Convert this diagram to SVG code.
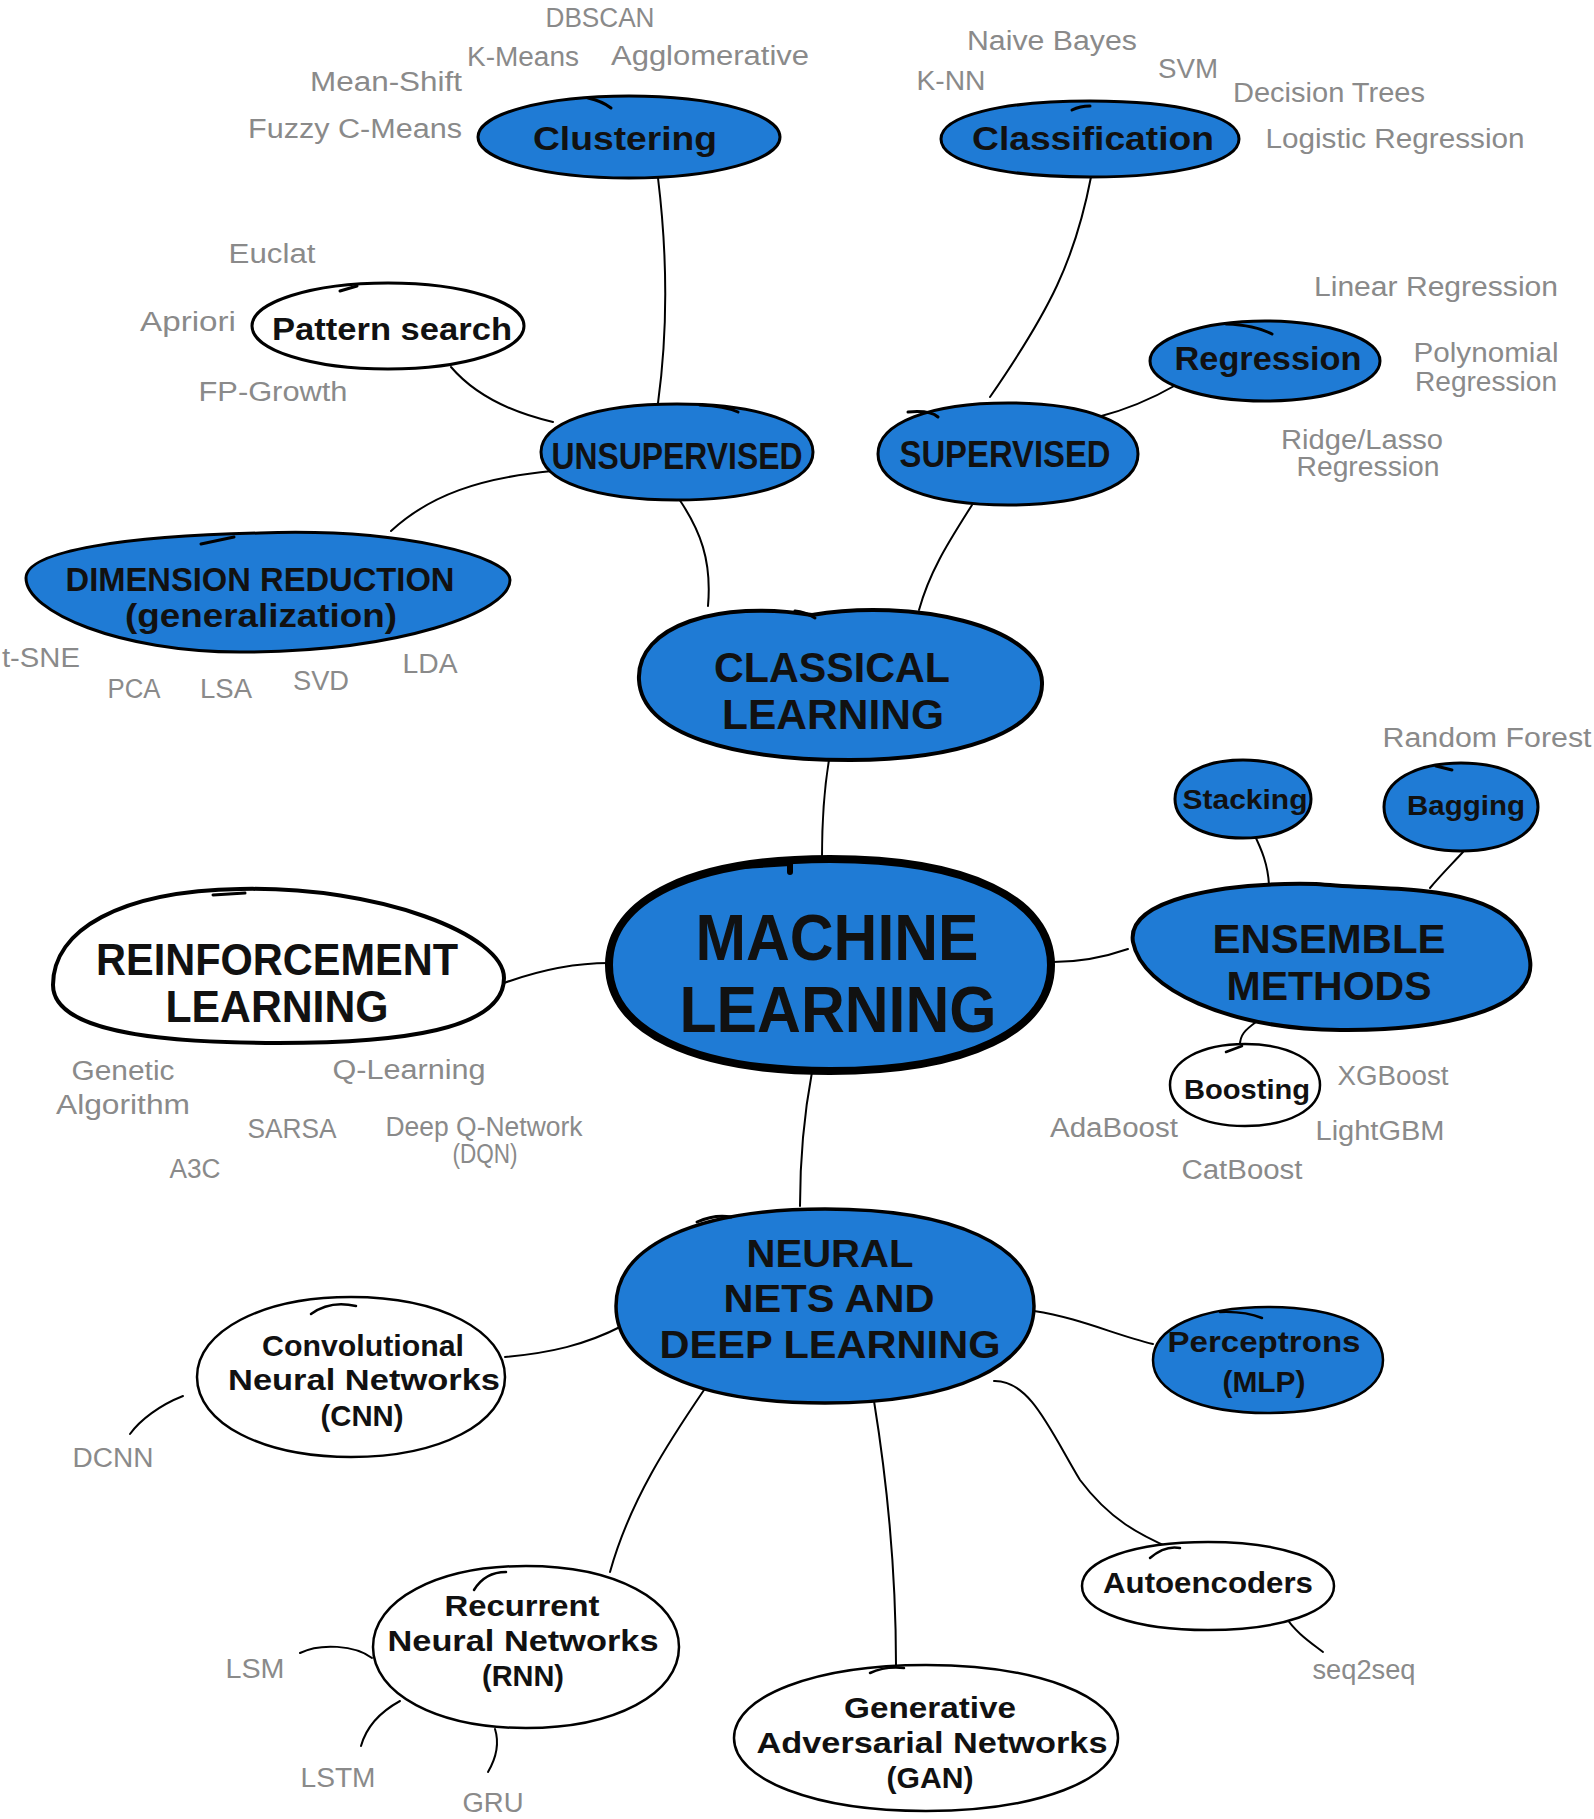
<svg xmlns="http://www.w3.org/2000/svg" width="1594" height="1819" viewBox="0 0 1594 1819">
  <style>
    .edge { fill: none; stroke: #000; stroke-width: 2; stroke-linecap: round; }
    .blob { fill: #1f7bd5; stroke: #000; stroke-width: 3; stroke-linejoin: round; }
    .plain { fill: #fff; stroke: #000; stroke-width: 3; stroke-linejoin: round; }
    .tick { fill: none; stroke: #000; stroke-width: 3; stroke-linecap: round; }
    .lbl { font-family: "Liberation Sans", Arial, sans-serif; fill: #111; text-anchor: middle; font-weight: bold; }
    .note { font-family: "Liberation Sans", Arial, sans-serif; fill: #8a8a8a; text-anchor: middle; font-size: 27px; }
  </style>

  <!-- connectors -->
  <g id="connectors">
    <path class="edge" d="M 658,178 C 668,260 668,330 658,403"/>
    <path class="edge" d="M 451,367 C 475,395 510,412 553,422"/>
    <path class="edge" d="M 1091,177 C 1075,260 1050,310 990,397"/>
    <path class="edge" d="M 1176,385 C 1150,400 1125,410 1098,417"/>
    <path class="edge" d="M 552,471 C 480,478 430,495 391,531"/>
    <path class="edge" d="M 679,499 C 700,530 712,560 708,606"/>
    <path class="edge" d="M 972,505 C 950,540 930,570 919,610"/>
    <path class="edge" d="M 829,760 C 824,790 822,820 822,857"/>
    <path class="edge" d="M 1053,962 C 1080,962 1105,957 1128,949"/>
    <path class="edge" d="M 1253,832 C 1262,850 1268,865 1269,885"/>
    <path class="edge" d="M 1463,852 C 1450,866 1440,876 1430,888"/>
    <path class="edge" d="M 1256,1022 C 1245,1030 1240,1035 1240,1045"/>
    <path class="edge" d="M 504,983 C 540,970 575,963 609,963"/>
    <path class="edge" d="M 812,1072 C 803,1120 800,1160 800,1206"/>
    <path class="edge" d="M 622,1326 C 585,1345 550,1353 505,1357"/>
    <path class="edge" d="M 1034,1311 C 1080,1318 1115,1335 1153,1344"/>
    <path class="edge" d="M 704,1390 C 670,1440 630,1500 610,1572"/>
    <path class="edge" d="M 874,1401 C 890,1500 896,1580 896,1665"/>
    <path class="edge" d="M 994,1381 C 1030,1380 1050,1430 1080,1480 C 1110,1520 1140,1535 1172,1549"/>
    <path class="edge" d="M 183,1396 C 160,1405 140,1420 130,1434"/>
    <path class="edge" d="M 1285,1616 C 1295,1632 1310,1642 1323,1652"/>
    <path class="edge" d="M 300,1653 C 320,1643 355,1645 372,1658"/>
    <path class="edge" d="M 400,1701 C 380,1712 366,1728 361,1746"/>
    <path class="edge" d="M 495,1729 C 500,1745 495,1760 488,1772"/>
  </g>

  <!-- nodes -->
  <g id="clustering">
    <path class="blob" d="M 629,96 C 714,96 780,114 780,137 C 780,160 714,178 629,178 C 544,178 478,160 478,137 C 478,114 544,96 629,96 Z"/>
    <path class="tick" d="M 588,98 Q 602,101 611,108"/>
    <text class="lbl" x="625" y="150" font-size="34" textLength="184" lengthAdjust="spacingAndGlyphs">Clustering</text>
  </g>
  <g id="classification">
    <path class="blob" d="M 1090,101 C 1179,101 1239,116 1239,139 C 1239,162 1179,177 1090,177 C 1001,177 941,162 941,139 C 941,116 1001,101 1090,101 Z"/>
    <path class="tick" d="M 1072,110 Q 1080,106 1090,106"/>
    <text class="lbl" x="1093" y="150" font-size="34" textLength="242" lengthAdjust="spacingAndGlyphs">Classification</text>
  </g>
  <g id="pattern-search">
    <path class="plain" d="M 388,283 C 464,283 524,302 524,326 C 524,350 464,369 388,369 C 312,369 252,350 252,326 C 252,302 312,283 388,283 Z"/>
    <path class="tick" d="M 340,291 L 357,286"/>
    <text class="lbl" x="392" y="340" font-size="31" textLength="240" lengthAdjust="spacingAndGlyphs">Pattern search</text>
  </g>
  <g id="regression">
    <path class="blob" d="M 1265,321 C 1329,321 1380,339 1380,361 C 1380,383 1329,401 1265,401 C 1201,401 1150,383 1150,361 C 1150,339 1201,321 1265,321 Z"/>
    <path class="tick" d="M 1226,324 Q 1255,325 1272,334"/>
    <text class="lbl" x="1268" y="370" font-size="34" textLength="187" lengthAdjust="spacingAndGlyphs">Regression</text>
  </g>
  <g id="unsupervised">
    <path class="blob" d="M 677,404 C 759,404 813,423 813,452 C 813,481 759,500 677,500 C 595,500 541,481 541,452 C 541,423 595,404 677,404 Z"/>
    <path class="tick" d="M 700,405 Q 725,406 738,412"/>
    <text class="lbl" x="677" y="469" font-size="37" textLength="251" lengthAdjust="spacingAndGlyphs">UNSUPERVISED</text>
  </g>
  <g id="supervised">
    <path class="blob" d="M 1008,403 C 1086,403 1138,423 1138,454 C 1138,485 1086,505 1008,505 C 930,505 878,485 878,454 C 878,423 930,403 1008,403 Z"/>
    <path class="tick" d="M 908,412 Q 930,410 938,417"/>
    <text class="lbl" x="1005" y="467" font-size="37" textLength="211" lengthAdjust="spacingAndGlyphs">SUPERVISED</text>
  </g>
  <g id="dimension-reduction">
    <path class="blob" d="M 260,533 C 400,528 510,556 510,580 C 510,612 400,652 240,652 C 120,652 26,612 26,578 C 26,550 130,536 260,533 Z"/>
    <path class="tick" d="M 201,544 L 234,537"/>
    <text class="lbl" x="260" y="591" font-size="34" textLength="389" lengthAdjust="spacingAndGlyphs">DIMENSION REDUCTION</text>
    <text class="lbl" x="261" y="627" font-size="34" textLength="272" lengthAdjust="spacingAndGlyphs">(generalization)</text>
  </g>
  <g id="classical-learning">
    <path class="blob" style="stroke-width:4" d="M 812,615 C 910,598 1040,625 1042,682 C 1044,735 950,760 850,760 C 735,760 642,735 639,680 C 636,625 720,600 812,615 Z"/>
    <path class="tick" d="M 795,611 Q 805,612 815,618"/>
    <text class="lbl" x="832" y="682" font-size="42" textLength="236" lengthAdjust="spacingAndGlyphs">CLASSICAL</text>
    <text class="lbl" x="833" y="729" font-size="42" textLength="222" lengthAdjust="spacingAndGlyphs">LEARNING</text>
  </g>
  <g id="stacking">
    <path class="blob" d="M 1243,760 C 1284,760 1311,776 1311,799 C 1311,822 1284,838 1243,838 C 1202,838 1175,822 1175,799 C 1175,776 1202,760 1243,760 Z"/>
    <text class="lbl" x="1245" y="809" font-size="28" textLength="125" lengthAdjust="spacingAndGlyphs">Stacking</text>
  </g>
  <g id="bagging">
    <path class="blob" d="M 1461,763 C 1507,763 1538,781 1538,807 C 1538,833 1507,851 1461,851 C 1415,851 1384,833 1384,807 C 1384,781 1415,763 1461,763 Z"/>
    <path class="tick" d="M 1436,766 L 1452,770"/>
    <text class="lbl" x="1466" y="815" font-size="28" textLength="118" lengthAdjust="spacingAndGlyphs">Bagging</text>
  </g>
  <g id="machine-learning">
    <path class="blob" style="stroke-width:8" d="M 830,859 C 967,859 1051,899 1051,965 C 1051,1031 967,1071 830,1071 C 693,1071 609,1031 609,965 C 609,899 693,859 830,859 Z"/>
    <path class="tick" style="stroke-width:6" d="M 742,866 L 790,863 L 790,872"/>
    <text class="lbl" x="837" y="960" font-size="64" textLength="283" lengthAdjust="spacingAndGlyphs">MACHINE</text>
    <text class="lbl" x="838" y="1032" font-size="64" textLength="317" lengthAdjust="spacingAndGlyphs">LEARNING</text>
  </g>
  <g id="reinforcement-learning">
    <path class="plain" style="stroke-width:4" d="M 240,889 C 380,886 504,935 504,978 C 504,1030 400,1043 278,1043 C 150,1043 53,1030 53,985 C 53,930 120,891 240,889 Z"/>
    <path class="tick" d="M 213,895 L 245,893"/>
    <text class="lbl" x="277" y="975" font-size="44" textLength="362" lengthAdjust="spacingAndGlyphs">REINFORCEMENT</text>
    <text class="lbl" x="277" y="1022" font-size="44" textLength="223" lengthAdjust="spacingAndGlyphs">LEARNING</text>
  </g>
  <g id="ensemble-methods">
    <path class="blob" style="stroke-width:4" d="M 1316,884 C 1400,892 1520,880 1530,960 C 1537,1010 1440,1031 1340,1030 C 1230,1029 1142,990 1133,942 C 1126,900 1220,882 1316,884 Z"/>
    <text class="lbl" x="1329" y="953" font-size="41" textLength="233" lengthAdjust="spacingAndGlyphs">ENSEMBLE</text>
    <text class="lbl" x="1329" y="1000" font-size="41" textLength="205" lengthAdjust="spacingAndGlyphs">METHODS</text>
  </g>
  <g id="boosting">
    <path class="plain" style="stroke-width:2.5" d="M 1245,1044 C 1289,1044 1320,1061 1320,1085 C 1320,1109 1289,1126 1245,1126 C 1201,1126 1170,1109 1170,1085 C 1170,1061 1201,1044 1245,1044 Z"/>
    <path class="tick" style="stroke-width:2.5" d="M 1226,1052 L 1242,1046"/>
    <text class="lbl" x="1247" y="1099" font-size="28" textLength="126" lengthAdjust="spacingAndGlyphs">Boosting</text>
  </g>
  <g id="neural-nets">
    <path class="blob" style="stroke-width:3.5" d="M 825,1209 C 955,1209 1034,1246 1034,1306 C 1034,1366 955,1403 825,1403 C 695,1403 616,1366 616,1306 C 616,1246 695,1209 825,1209 Z"/>
    <path class="tick" d="M 697,1222 Q 715,1214 731,1217"/>
    <text class="lbl" x="830" y="1267" font-size="39" textLength="167" lengthAdjust="spacingAndGlyphs">NEURAL</text>
    <text class="lbl" x="829" y="1312" font-size="39" textLength="211" lengthAdjust="spacingAndGlyphs">NETS AND</text>
    <text class="lbl" x="830" y="1358" font-size="39" textLength="341" lengthAdjust="spacingAndGlyphs">DEEP LEARNING</text>
  </g>
  <g id="cnn">
    <path class="plain" style="stroke-width:2.5" d="M 351,1297 C 440,1297 505,1331 505,1377 C 505,1423 440,1457 351,1457 C 262,1457 197,1423 197,1377 C 197,1331 262,1297 351,1297 Z"/>
    <path class="tick" style="stroke-width:2.5" d="M 311,1314 Q 330,1300 356,1306"/>
    <text class="lbl" x="363" y="1356" font-size="30" textLength="202" lengthAdjust="spacingAndGlyphs">Convolutional</text>
    <text class="lbl" x="364" y="1390" font-size="30" textLength="272" lengthAdjust="spacingAndGlyphs">Neural Networks</text>
    <text class="lbl" x="362" y="1426" font-size="30" textLength="83" lengthAdjust="spacingAndGlyphs">(CNN)</text>
  </g>
  <g id="perceptrons">
    <path class="blob" style="stroke-width:2.5" d="M 1268,1307 C 1337,1307 1383,1328 1383,1360 C 1383,1392 1337,1413 1268,1413 C 1199,1413 1153,1392 1153,1360 C 1153,1328 1199,1307 1268,1307 Z"/>
    <path class="tick" style="stroke-width:2.5" d="M 1220,1312 Q 1245,1311 1262,1318"/>
    <text class="lbl" x="1264" y="1352" font-size="30" textLength="193" lengthAdjust="spacingAndGlyphs">Perceptrons</text>
    <text class="lbl" x="1264" y="1392" font-size="30" textLength="83" lengthAdjust="spacingAndGlyphs">(MLP)</text>
  </g>
  <g id="autoencoders">
    <path class="plain" style="stroke-width:2.5" d="M 1208,1542 C 1281,1542 1334,1560 1334,1586 C 1334,1612 1281,1630 1208,1630 C 1135,1630 1082,1612 1082,1586 C 1082,1560 1135,1542 1208,1542 Z"/>
    <path class="tick" style="stroke-width:2.5" d="M 1150,1558 Q 1165,1545 1180,1548"/>
    <text class="lbl" x="1208" y="1593" font-size="30" textLength="210" lengthAdjust="spacingAndGlyphs">Autoencoders</text>
  </g>
  <g id="rnn">
    <path class="plain" style="stroke-width:2.5" d="M 526,1566 C 615,1566 679,1600 679,1647 C 679,1694 615,1728 526,1728 C 437,1728 373,1694 373,1647 C 373,1600 437,1566 526,1566 Z"/>
    <path class="tick" style="stroke-width:2.5" d="M 474,1590 Q 485,1572 506,1572"/>
    <text class="lbl" x="522" y="1616" font-size="30" textLength="155" lengthAdjust="spacingAndGlyphs">Recurrent</text>
    <text class="lbl" x="523" y="1651" font-size="30" textLength="271" lengthAdjust="spacingAndGlyphs">Neural Networks</text>
    <text class="lbl" x="523" y="1686" font-size="30" textLength="82" lengthAdjust="spacingAndGlyphs">(RNN)</text>
  </g>
  <g id="gan">
    <path class="plain" style="stroke-width:2.5" d="M 926,1665 C 1037,1665 1118,1696 1118,1738 C 1118,1780 1037,1811 926,1811 C 815,1811 734,1780 734,1738 C 734,1696 815,1665 926,1665 Z"/>
    <path class="tick" style="stroke-width:2.5" d="M 870,1673 Q 885,1666 904,1668"/>
    <text class="lbl" x="930" y="1718" font-size="30" textLength="172" lengthAdjust="spacingAndGlyphs">Generative</text>
    <text class="lbl" x="932" y="1753" font-size="30" textLength="351" lengthAdjust="spacingAndGlyphs">Adversarial Networks</text>
    <text class="lbl" x="930" y="1788" font-size="30" textLength="87" lengthAdjust="spacingAndGlyphs">(GAN)</text>
  </g>

  <!-- algorithm examples -->
  <g id="examples">
    <text class="note" x="600" y="27" textLength="109" lengthAdjust="spacingAndGlyphs">DBSCAN</text>
    <text class="note" x="523" y="66" textLength="112" lengthAdjust="spacingAndGlyphs">K-Means</text>
    <text class="note" x="710" y="65" textLength="198" lengthAdjust="spacingAndGlyphs">Agglomerative</text>
    <text class="note" x="386" y="91" textLength="152" lengthAdjust="spacingAndGlyphs">Mean-Shift</text>
    <text class="note" x="355" y="138" textLength="214" lengthAdjust="spacingAndGlyphs">Fuzzy C-Means</text>
    <text class="note" x="1052" y="50" textLength="170" lengthAdjust="spacingAndGlyphs">Naive Bayes</text>
    <text class="note" x="951" y="90" textLength="69" lengthAdjust="spacingAndGlyphs">K-NN</text>
    <text class="note" x="1188" y="78" textLength="60" lengthAdjust="spacingAndGlyphs">SVM</text>
    <text class="note" x="1329" y="102" textLength="192" lengthAdjust="spacingAndGlyphs">Decision Trees</text>
    <text class="note" x="1395" y="148" textLength="259" lengthAdjust="spacingAndGlyphs">Logistic Regression</text>
    <text class="note" x="272" y="263" textLength="87" lengthAdjust="spacingAndGlyphs">Euclat</text>
    <text class="note" x="188" y="331" textLength="96" lengthAdjust="spacingAndGlyphs">Apriori</text>
    <text class="note" x="273" y="401" textLength="149" lengthAdjust="spacingAndGlyphs">FP-Growth</text>
    <text class="note" x="1436" y="296" textLength="244" lengthAdjust="spacingAndGlyphs">Linear Regression</text>
    <text class="note" x="1486" y="362" textLength="145" lengthAdjust="spacingAndGlyphs">Polynomial</text>
    <text class="note" x="1486" y="391" textLength="142" lengthAdjust="spacingAndGlyphs">Regression</text>
    <text class="note" x="1362" y="449" textLength="162" lengthAdjust="spacingAndGlyphs">Ridge/Lasso</text>
    <text class="note" x="1368" y="476" textLength="143" lengthAdjust="spacingAndGlyphs">Regression</text>
    <text class="note" x="41" y="667" textLength="78" lengthAdjust="spacingAndGlyphs">t-SNE</text>
    <text class="note" x="134" y="698" textLength="53" lengthAdjust="spacingAndGlyphs">PCA</text>
    <text class="note" x="226" y="698" textLength="52" lengthAdjust="spacingAndGlyphs">LSA</text>
    <text class="note" x="321" y="690" textLength="56" lengthAdjust="spacingAndGlyphs">SVD</text>
    <text class="note" x="430" y="673" textLength="55" lengthAdjust="spacingAndGlyphs">LDA</text>
    <text class="note" x="1487" y="747" textLength="209" lengthAdjust="spacingAndGlyphs">Random Forest</text>
    <text class="note" x="1393" y="1085" textLength="111" lengthAdjust="spacingAndGlyphs">XGBoost</text>
    <text class="note" x="1114" y="1137" textLength="128" lengthAdjust="spacingAndGlyphs">AdaBoost</text>
    <text class="note" x="1380" y="1140" textLength="129" lengthAdjust="spacingAndGlyphs">LightGBM</text>
    <text class="note" x="1242" y="1179" textLength="121" lengthAdjust="spacingAndGlyphs">CatBoost</text>
    <text class="note" x="123" y="1080" textLength="103" lengthAdjust="spacingAndGlyphs">Genetic</text>
    <text class="note" x="123" y="1114" textLength="134" lengthAdjust="spacingAndGlyphs">Algorithm</text>
    <text class="note" x="409" y="1079" textLength="153" lengthAdjust="spacingAndGlyphs">Q-Learning</text>
    <text class="note" x="292" y="1138" textLength="89" lengthAdjust="spacingAndGlyphs">SARSA</text>
    <text class="note" x="484" y="1136" font-size="24" textLength="197" lengthAdjust="spacingAndGlyphs">Deep Q-Network</text>
    <text class="note" x="485" y="1163" font-size="24" textLength="65" lengthAdjust="spacingAndGlyphs">(DQN)</text>
    <text class="note" x="195" y="1178" textLength="51" lengthAdjust="spacingAndGlyphs">A3C</text>
    <text class="note" x="113" y="1467" textLength="81" lengthAdjust="spacingAndGlyphs">DCNN</text>
    <text class="note" x="255" y="1678" textLength="59" lengthAdjust="spacingAndGlyphs">LSM</text>
    <text class="note" x="338" y="1787" textLength="75" lengthAdjust="spacingAndGlyphs">LSTM</text>
    <text class="note" x="493" y="1812" textLength="61" lengthAdjust="spacingAndGlyphs">GRU</text>
    <text class="note" x="1364" y="1679" font-size="23" textLength="103" lengthAdjust="spacingAndGlyphs">seq2seq</text>
  </g>
</svg>
